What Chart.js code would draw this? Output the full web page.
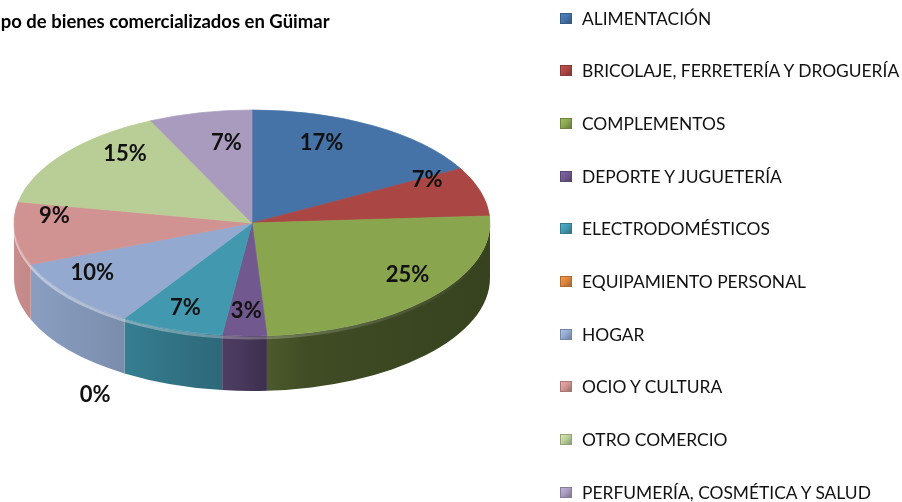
<!DOCTYPE html>
<html>
<head>
<meta charset="utf-8">
<script src="https://cdn.jsdelivr.net/npm/chart.js@4.4.0/dist/chart.umd.min.js"></script>
<style>
  html, body { margin: 0; padding: 0; background: #fff; overflow: hidden; }
  #wrap { position: relative; width: 902px; height: 502px; overflow: hidden; }
  canvas { position: absolute; left: 0; top: 0; }
  #title { position: absolute; left: -15px; top: 10px; font: bold 18.5px Lato, sans-serif; color: #000; white-space: nowrap; }
  #legend { position: absolute; left: 560px; top: 0; }
  .item { position: absolute; left: 0; height: 22px; display: flex; align-items: center; white-space: nowrap; font: 17.4px Lato, sans-serif; color: #111; }
  .box { width: 12px; height: 11px; margin-right: 10px; box-sizing: border-box; }
</style>
</head>
<body>
<div id="wrap">
  <canvas id="pie" width="902" height="502"></canvas>
  <div id="title"></div>
  <div id="legend"></div>
</div>
<script>
const titleText = 'Tipo de bienes comercializados en Güimar';
const categories = [
  'ALIMENTACIÓN',
  'BRICOLAJE, FERRETERÍA Y DROGUERÍA',
  'COMPLEMENTOS',
  'DEPORTE Y JUGUETERÍA',
  'ELECTRODOMÉSTICOS',
  'EQUIPAMIENTO PERSONAL',
  'HOGAR',
  'OCIO Y CULTURA',
  'OTRO COMERCIO',
  'PERFUMERÍA, COSMÉTICA Y SALUD'
];
const shares = [17, 7, 25, 3, 7, 0, 10, 9, 15, 7];
const sliceColors = ['#4572A7', '#AA4643', '#89A54E', '#71588F', '#4198AF',
                     '#DB843D', '#93A9CF', '#D19392', '#B9CD96', '#A99BBD'];

// where the flattened pie sits on the page
const TOP = { cx: 252, cy: 223, rx: 238, ry: 113, depth: 55 };

function shade(hex, k) {
  const n = parseInt(hex.slice(1), 16);
  const r = Math.round(((n >> 16) & 255) * k);
  const g = Math.round(((n >> 8) & 255) * k);
  const b = Math.round((n & 255) * k);
  return `rgb(${Math.min(r, 255)},${Math.min(g, 255)},${Math.min(b, 255)})`;
}

document.getElementById('title').textContent = titleText;

// legend (Chart.js legend would wrap into two columns at this spacing)
const legend = document.getElementById('legend');
categories.forEach((name, i) => {
  const div = document.createElement('div');
  div.className = 'item';
  div.style.top = (18 + i * 52.7 - 11) + 'px';
  const c = sliceColors[i];
  div.innerHTML = `<span class="box" style="background:linear-gradient(135deg, ${shade(c, 1.15)} 0%, ${c} 50%, ${shade(c, 0.75)} 100%);border:1px solid ${shade(c, 0.8)}"></span>${name}`;
  legend.appendChild(div);
});

const pie3d = {
  id: 'pie3d',
  beforeDatasetsDraw(chart) {
    const ctx = chart.ctx;
    const arcs = chart.getDatasetMeta(0).data;
    const a = arcs[0];
    // side walls, front half only
    arcs.forEach((arc, i) => {
      const s = Math.max(arc.startAngle, 0);
      const e = Math.min(arc.endAngle, Math.PI);
      if (e <= s) return;
      const g = ctx.createLinearGradient(TOP.cx - TOP.rx, 0, TOP.cx + TOP.rx, 0);
      [[0, 0.95], [0.2, 0.85], [0.45, 0.68], [0.52, 0.56], [0.62, 0.46], [1, 0.4]]
        .forEach(([p, k]) => g.addColorStop(p, shade(sliceColors[i], k)));
      ctx.beginPath();
      ctx.ellipse(TOP.cx, TOP.cy, TOP.rx, TOP.ry, 0, s, e);
      ctx.ellipse(TOP.cx, TOP.cy + TOP.depth, TOP.rx, TOP.ry, 0, e, s, true);
      ctx.closePath();
      ctx.fillStyle = g;
      ctx.fill();
    });
    // light bevel along the front rim
    const hg = ctx.createLinearGradient(TOP.cx - TOP.rx, 0, TOP.cx + TOP.rx, 0);
    hg.addColorStop(0, 'rgba(255,255,255,0.45)');
    hg.addColorStop(0.5, 'rgba(255,255,255,0.25)');
    hg.addColorStop(1, 'rgba(255,255,255,0.0)');
    ctx.beginPath();
    ctx.ellipse(TOP.cx, TOP.cy + 2, TOP.rx, TOP.ry, 0, 0.02, Math.PI - 0.02);
    ctx.strokeStyle = hg;
    ctx.lineWidth = 3;
    ctx.stroke();

    ctx.save();
    ctx.translate(TOP.cx, TOP.cy);
    ctx.scale(TOP.rx / a.outerRadius, TOP.ry / a.outerRadius);
    ctx.translate(-a.x, -a.y);
  },
  afterDatasetsDraw(chart) {
    const ctx = chart.ctx;
    ctx.restore();
    const arcs = chart.getDatasetMeta(0).data;
    ctx.save();
    ctx.font = 'bold 22px Lato, sans-serif';
    ctx.fillStyle = '#111';
    ctx.textAlign = 'center';
    ctx.textBaseline = 'middle';
    arcs.forEach((arc, i) => {
      const mid = (arc.startAngle + arc.endAngle) / 2;
      const sn = Math.sin(mid);
      const cs = Math.abs(Math.cos(mid));
      let x, y;
      if (shares[i] === 0) {
        x = TOP.cx + Math.cos(mid) * TOP.rx * 1.23;
        y = TOP.cy + sn * TOP.ry * 1.23 + TOP.depth;
      } else {
        // labels sit nearer the middle on the far side, like the perspective view
        const f = 0.6 + 0.22 * cs + 0.16 * sn;
        const dy = sn < 0 ? -16 + 10 * sn : -16 + 17 * Math.pow(sn, 4);
        x = TOP.cx + Math.cos(mid) * TOP.rx * f;
        y = TOP.cy + sn * TOP.ry * f + dy;
      }
      ctx.fillText(shares[i] + '%', x, y);
    });
    ctx.restore();
  }
};

new Chart(document.getElementById('pie'), {
  type: 'pie',
  data: {
    labels: categories,
    datasets: [{
      data: shares,
      backgroundColor: sliceColors,
      borderColor: sliceColors,
      borderWidth: 1,
      clip: false
    }]
  },
  options: {
    responsive: false,
    animation: false,
    devicePixelRatio: 1,
    events: [],
    layout: { padding: { left: 0, top: 0, right: 402, bottom: 0 } },
    plugins: {
      legend: { display: false },
      tooltip: { enabled: false },
      title: { display: false }
    }
  },
  plugins: [pie3d]
});
</script>
</body>
</html>
